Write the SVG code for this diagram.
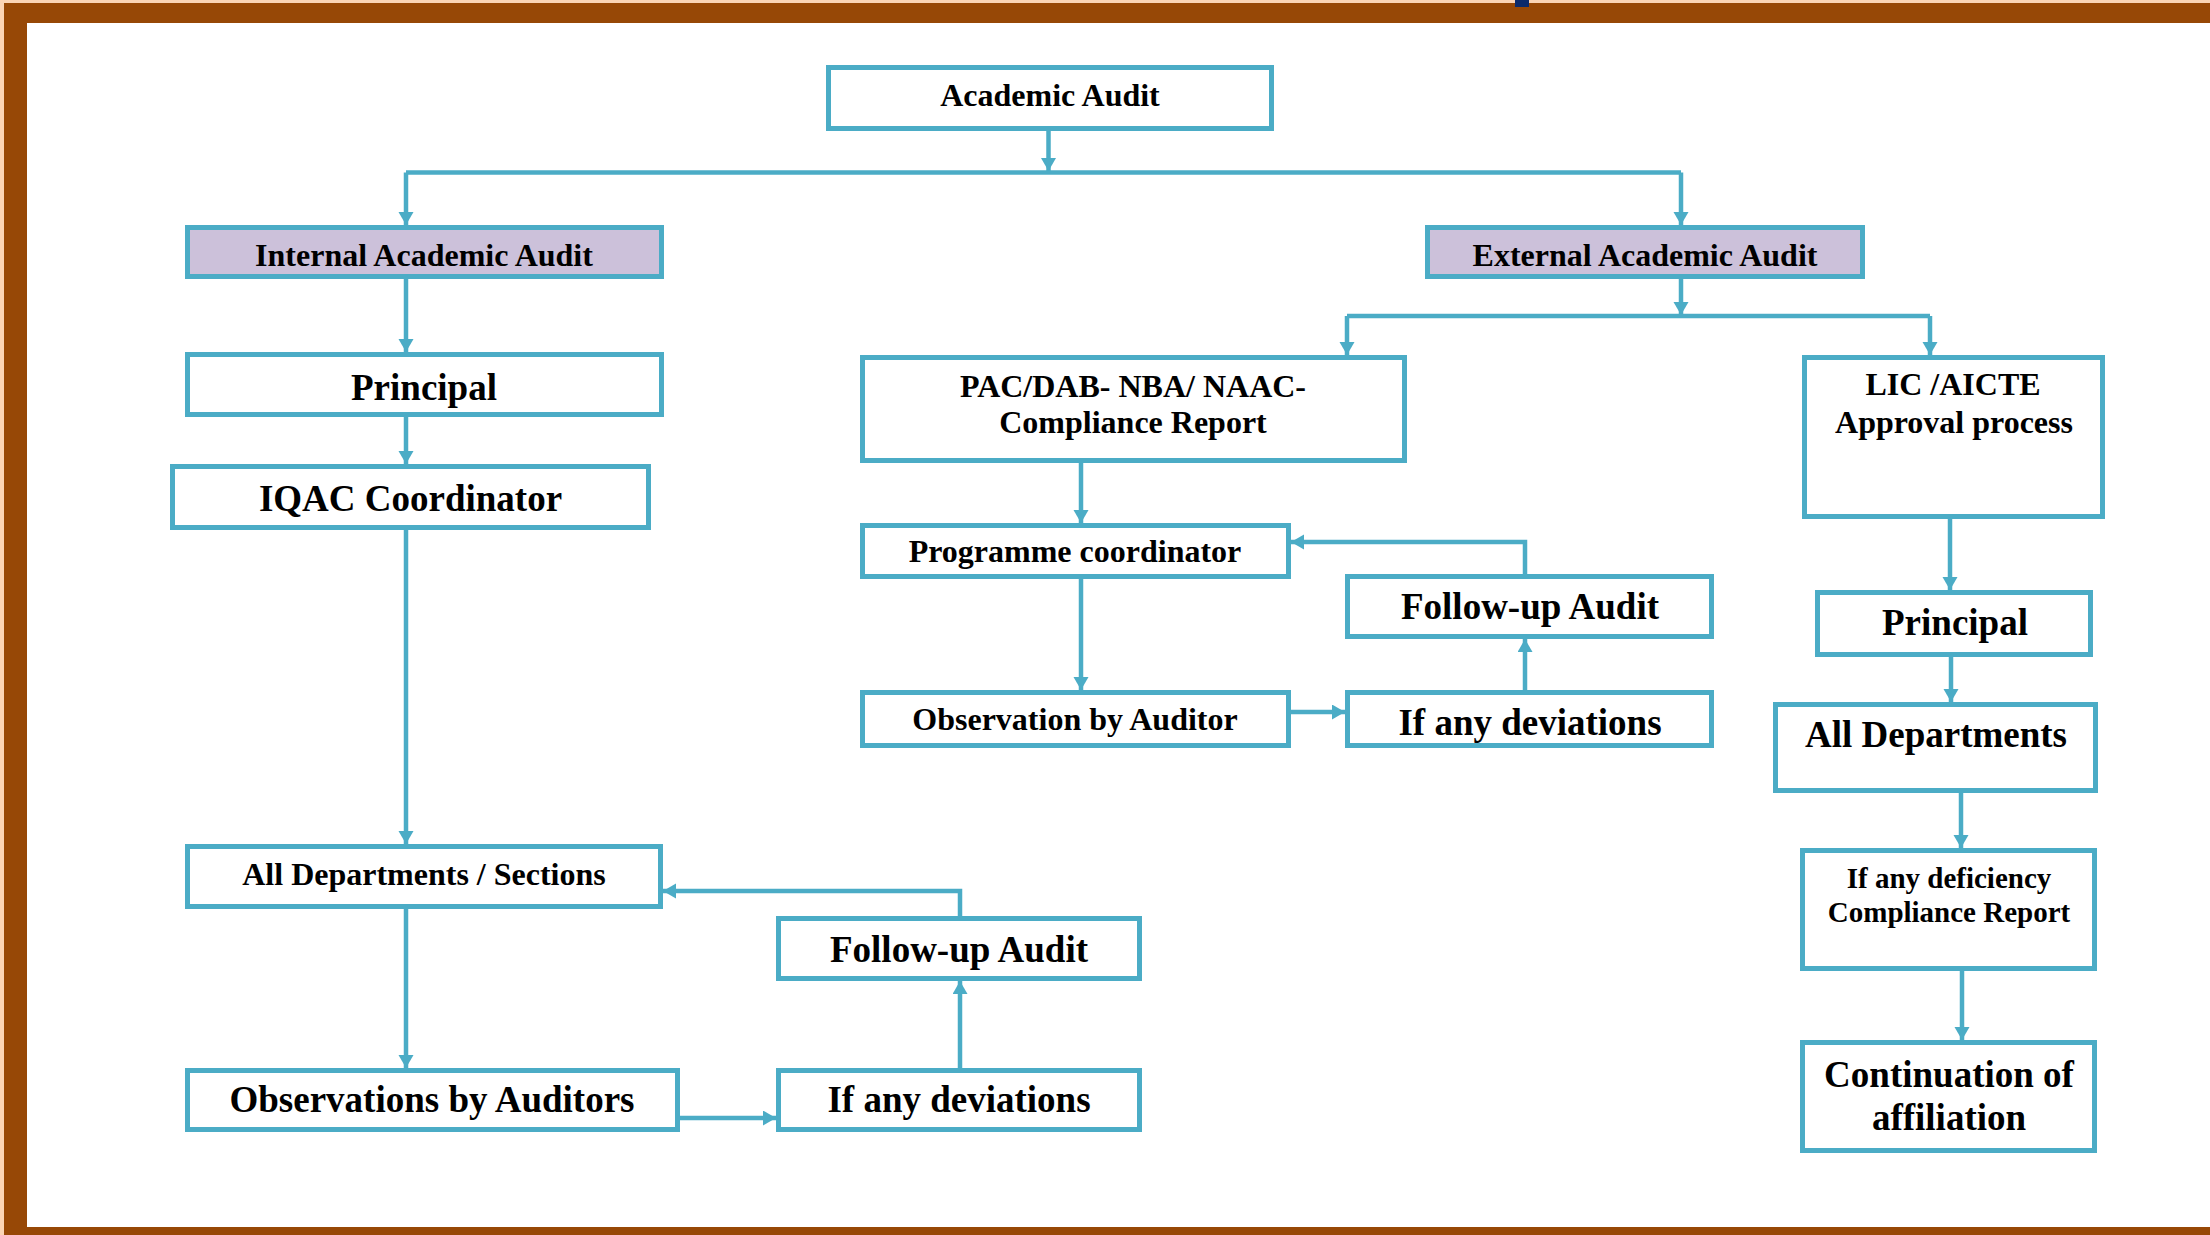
<svg xmlns="http://www.w3.org/2000/svg" width="2210" height="1235" viewBox="0 0 2210 1235">
<style>
.box{fill:#ffffff;stroke:#4BACC6;stroke-width:5}
.hl{fill:#CCC1DA}
.c{fill:none;stroke:#4BACC6;stroke-width:4.5}
text{font-family:"Liberation Serif","Times New Roman",serif;font-weight:bold;fill:#000;text-anchor:middle}
.s{font-size:32px}
.l{font-size:37px}
.m{font-size:29px}
</style>
<defs>
<marker id="ah" markerUnits="userSpaceOnUse" markerWidth="14" markerHeight="16" refX="13" refY="7.5" orient="auto">
<path d="M0,0 L13,7.5 L0,15 z" fill="#4BACC6"/>
</marker>
</defs>
<rect x="0" y="0" width="2210" height="1235" fill="#ffffff"/>
<g id="frame">
<rect x="0" y="0" width="2210" height="4" fill="#FBD5B5"/>
<rect x="0" y="0" width="4" height="1235" fill="#FBD5B5"/>
<rect x="4" y="3" width="2206" height="20" fill="#974806"/>
<rect x="4" y="3" width="23" height="1232" fill="#974806"/>
<rect x="4" y="1227" width="2206" height="8" fill="#974806"/>
<rect x="1515" y="0" width="14" height="7" fill="#0B2A6B"/>
</g>
<g id="connectors">
<path class="c" d="M1048.5,131 V171" marker-end="url(#ah)"/>
<path class="c" d="M406,172.5 H1681"/>
<path class="c" d="M406,172.5 V225" marker-end="url(#ah)"/>
<path class="c" d="M1681,172.5 V225" marker-end="url(#ah)"/>
<path class="c" d="M406,279 V352" marker-end="url(#ah)"/>
<path class="c" d="M406,417 V464" marker-end="url(#ah)"/>
<path class="c" d="M406,530 V844" marker-end="url(#ah)"/>
<path class="c" d="M406,909 V1068" marker-end="url(#ah)"/>
<path class="c" d="M680,1118 H776" marker-end="url(#ah)"/>
<path class="c" d="M960,1068 V981" marker-end="url(#ah)"/>
<path class="c" d="M960,916 V891 H663" marker-end="url(#ah)"/>
<path class="c" d="M1681,279 V315" marker-end="url(#ah)"/>
<path class="c" d="M1347,316 H1930"/>
<path class="c" d="M1347,316 V355" marker-end="url(#ah)"/>
<path class="c" d="M1930,316 V355" marker-end="url(#ah)"/>
<path class="c" d="M1081,463 V523" marker-end="url(#ah)"/>
<path class="c" d="M1081,579 V690" marker-end="url(#ah)"/>
<path class="c" d="M1291,712 H1345" marker-end="url(#ah)"/>
<path class="c" d="M1525,690 V639" marker-end="url(#ah)"/>
<path class="c" d="M1525,574 V542 H1291" marker-end="url(#ah)"/>
<path class="c" d="M1950,519 V590" marker-end="url(#ah)"/>
<path class="c" d="M1951,657 V702" marker-end="url(#ah)"/>
<path class="c" d="M1961,793 V848" marker-end="url(#ah)"/>
<path class="c" d="M1962,971 V1040" marker-end="url(#ah)"/>
</g>
<g id="academic-audit"><rect class="box" x="828.5" y="67.5" width="443" height="61"/><text class="s" x="1050" y="106">Academic Audit</text></g>
<g id="internal-audit"><rect class="box hl" x="187.5" y="227.5" width="474" height="49"/><text class="s" x="424" y="266">Internal Academic Audit</text></g>
<g id="external-audit"><rect class="box hl" x="1427.5" y="227.5" width="435" height="49"/><text class="s" x="1645" y="266">External Academic Audit</text></g>
<g id="principal-left"><rect class="box" x="187.5" y="354.5" width="474" height="60"/><text class="l" x="424" y="400">Principal</text></g>
<g id="iqac"><rect class="box" x="172.5" y="466.5" width="476" height="61"/><text class="l" x="410.5" y="511">IQAC Coordinator</text></g>
<g id="all-dept-sections"><rect class="box" x="187.5" y="846.5" width="473" height="60"/><text class="s" x="424" y="885">All Departments / Sections</text></g>
<g id="followup-left"><rect class="box" x="778.5" y="918.5" width="361" height="60"/><text class="l" x="959" y="962">Follow-up Audit</text></g>
<g id="observations-left"><rect class="box" x="187.5" y="1070.5" width="490" height="59"/><text class="l" x="432" y="1112">Observations by Auditors</text></g>
<g id="deviations-left"><rect class="box" x="778.5" y="1070.5" width="361" height="59"/><text class="l" x="959" y="1112">If any deviations</text></g>
<g id="pac"><rect class="box" x="862.5" y="357.5" width="542" height="103"/><text class="s" x="1133" y="397">PAC/DAB- NBA/ NAAC-</text><text class="s" x="1133" y="433">Compliance Report</text></g>
<g id="programme-coordinator"><rect class="box" x="862.5" y="525.5" width="426" height="51"/><text class="s" x="1075" y="562">Programme coordinator</text></g>
<g id="observation-mid"><rect class="box" x="862.5" y="692.5" width="426" height="53"/><text class="s" x="1075" y="730">Observation by Auditor</text></g>
<g id="followup-mid"><rect class="box" x="1347.5" y="576.5" width="364" height="60"/><text class="l" x="1530" y="619">Follow-up Audit</text></g>
<g id="deviations-mid"><rect class="box" x="1347.5" y="692.5" width="364" height="53"/><text class="l" x="1530" y="735">If any deviations</text></g>
<g id="lic"><rect class="box" x="1804.5" y="357.5" width="298" height="159"/><text class="s" x="1953" y="395">LIC /AICTE</text><text class="s" x="1954" y="433">Approval process</text></g>
<g id="principal-right"><rect class="box" x="1817.5" y="592.5" width="273" height="62"/><text class="l" x="1955" y="635">Principal</text></g>
<g id="all-departments"><rect class="box" x="1775.5" y="704.5" width="320" height="86"/><text class="l" x="1936" y="747">All Departments</text></g>
<g id="deficiency"><rect class="box" x="1802.5" y="850.5" width="292" height="118"/><text class="m" x="1949" y="888">If any deficiency</text><text class="m" x="1949" y="922">Compliance Report</text></g>
<g id="continuation"><rect class="box" x="1802.5" y="1042.5" width="292" height="108"/><text class="l" x="1949" y="1087">Continuation of</text><text class="l" x="1949" y="1130">affiliation</text></g>
</svg>
